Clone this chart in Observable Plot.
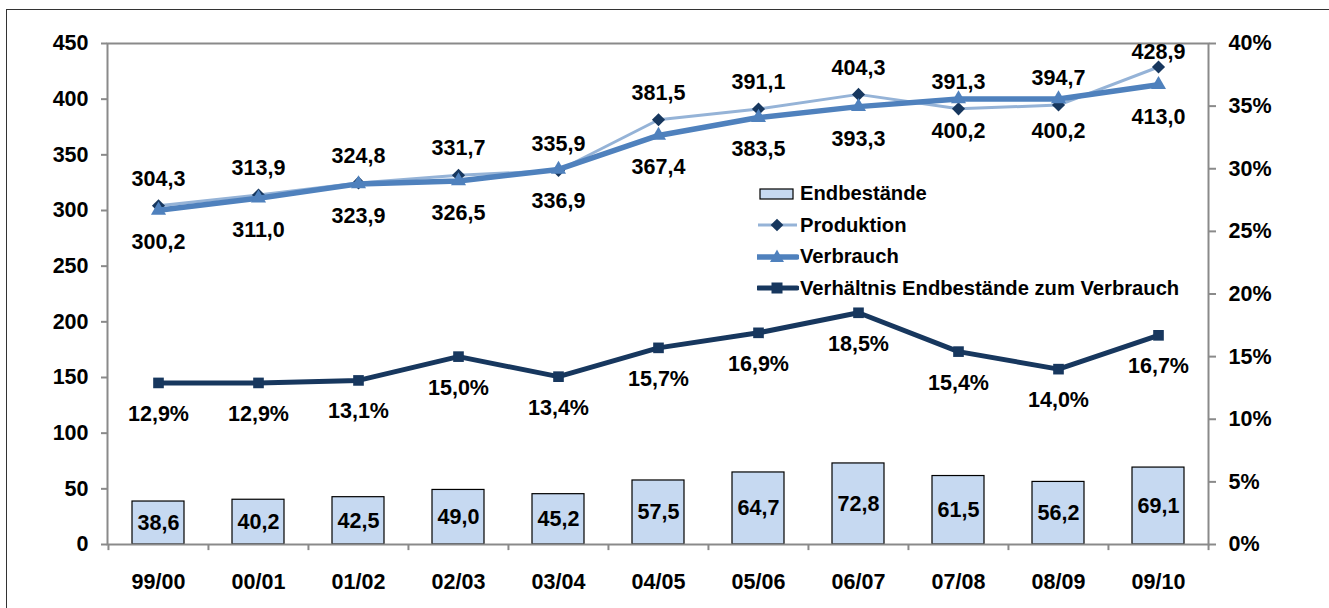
<!DOCTYPE html>
<html>
<head>
<meta charset="utf-8">
<script src="https://cdn.jsdelivr.net/npm/d3@7"></script>
<script src="https://cdn.jsdelivr.net/npm/@observablehq/plot@0.6"></script>
<style>
  html, body { margin: 0; padding: 0; background: #fff; overflow: hidden; }
  #wrap { position: relative; width: 1329px; height: 608px; overflow: hidden; }
  #border { position: absolute; left: 6px; top: 9px; width: 1400px; height: 700px;
            border-top: 1px solid #333; border-left: 1px solid #333; box-sizing: border-box; }
  #chart { position: absolute; left: 0; top: 0; }
  #legend { position: absolute; left: 757px; top: 178px; font-family: "Liberation Sans", Arial, sans-serif;
            font-weight: bold; font-size: 20.2px; color: #000; }
  .row { position: relative; height: 31.5px; display: flex; align-items: center; white-space: nowrap; }
  .row svg { width: 42px; height: 20px; flex: none; margin-right: 1px; }
</style>
</head>
<body>
<div id="wrap">
  <div id="border"></div>
  <div id="chart"></div>
  <div id="legend"></div>
</div>
<script>
const categories = ["99/00","00/01","01/02","02/03","03/04","04/05","05/06","06/07","07/08","08/09","09/10"];
const endbestaende = [38.6, 40.2, 42.5, 49.0, 45.2, 57.5, 64.7, 72.8, 61.5, 56.2, 69.1];
const produktion = [304.3, 313.9, 324.8, 331.7, 335.9, 381.5, 391.1, 404.3, 391.3, 394.7, 428.9];
const verbrauch = [300.2, 311.0, 323.9, 326.5, 336.9, 367.4, 383.5, 393.3, 400.2, 400.2, 413.0];
const verhaeltnis = [12.9, 12.9, 13.1, 15.0, 13.4, 15.7, 16.9, 18.5, 15.4, 14.0, 16.7];
const leftTicks = [0, 50, 100, 150, 200, 250, 300, 350, 400, 450];
const rightTicks = [0, 5, 10, 15, 20, 25, 30, 35, 40];
const seriesNames = ["Endbestände", "Produktion", "Verbrauch", "Verhältnis Endbestände zum Verbrauch"];

const C = {
  bar: "#C6D9F1", prodLine: "#95B3D7", prodMark: "#17375E",
  verb: "#4F81BD", ratio: "#17375E", axis: "#8A8A8A"
};

const yMax = 450, pMax = 40, k = yMax / pMax;
const rows = categories.map((c, i) => ({
  cat: c, end: endbestaende[i], prod: produktion[i], verb: verbrauch[i], ratio: verhaeltnis[i]
}));
const de = v => v.toFixed(1).replace(".", ",");

const W = 1329, H = 608, mL = 107, mR = 121, mT = 43, mB = 64;
const step = (W - mL - mR) / categories.length;
const font = "Liberation Sans, Arial, sans-serif";
const fs = 21.5;

const chart = Plot.plot({
  width: W, height: H,
  marginLeft: mL, marginRight: mR, marginTop: mT, marginBottom: mB,
  style: { fontFamily: font, fontWeight: "bold", fontSize: fs + "px", color: "#000", background: "transparent" },
  x: { type: "band", domain: categories, padding: 0 },
  y: { domain: [0, yMax] },
  marks: [
    Plot.barY(rows, { x: "cat", y: "end", fill: C.bar, stroke: "#000", strokeWidth: 1.2, insetLeft: 24, insetRight: 24 }),
    Plot.frame({ stroke: C.axis, strokeWidth: 2 }),
    Plot.ruleX(categories, { x: d => d, y1: 0, y2: -5.5, dx: -step / 2, stroke: C.axis, strokeWidth: 2 }),
    Plot.ruleX(categories.slice(-1), { x: d => d, y1: 0, y2: -5.5, dx: step / 2, stroke: C.axis, strokeWidth: 2 }),
    Plot.axisY({ ticks: leftTicks, tickSize: 6, tickPadding: 13, stroke: C.axis, strokeWidth: 2, fill: "#000",
                 fontSize: fs, fontWeight: "bold", label: null, tickFormat: d => String(d) }),
    Plot.axisY({ anchor: "right", ticks: rightTicks.map(p => p * k), tickSize: 7, tickPadding: 13, stroke: C.axis,
                 strokeWidth: 2, fill: "#000", fontSize: fs, fontWeight: "bold", label: null,
                 tickFormat: d => Math.round(d / k) + "%" }),
    Plot.axisX({ tickSize: 0, tickPadding: 29, fill: "#000", fontSize: fs, fontWeight: "bold", label: null }),
    // Produktion
    Plot.lineY(rows, { x: "cat", y: "prod", stroke: C.prodLine, strokeWidth: 3 }),
    Plot.dot(rows, { x: "cat", y: "prod", symbol: "diamond2", r: 5.9, fill: C.prodMark, stroke: "none" }),
    // Verbrauch
    Plot.lineY(rows, { x: "cat", y: "verb", stroke: C.verb, strokeWidth: 5.5 }),
    Plot.dot(rows, { x: "cat", y: "verb", symbol: "triangle", r: 5.6, fill: C.verb, stroke: "none" }),
    // Verhältnis
    Plot.lineY(rows, { x: "cat", y: d => d.ratio * k, stroke: C.ratio, strokeWidth: 5 }),
    Plot.dot(rows, { x: "cat", y: d => d.ratio * k, symbol: "square", r: 6, fill: C.ratio, stroke: "none" }),
    // Labels
    Plot.text(rows, { x: "cat", y: d => Math.min(d.prod + 24, 442), text: d => de(d.prod), fontSize: fs, fontWeight: "bold", fill: "#000" }),
    Plot.text(rows, { x: "cat", y: "verb", dy: 32, text: d => de(d.verb), fontSize: fs, fontWeight: "bold", fill: "#000" }),
    Plot.text(rows, { x: "cat", y: d => d.ratio * k, dy: 31, text: d => de(d.ratio) + "%", fontSize: fs, fontWeight: "bold", fill: "#000" }),
    Plot.text(rows, { x: "cat", y: d => d.end / 2, text: d => de(d.end), fontSize: fs, fontWeight: "bold", fill: "#000" })
  ]
});
document.getElementById("chart").appendChild(chart);

// Legend
const swatches = [
  `<svg viewBox="0 0 42 20"><rect x="3" y="5" width="33" height="10" fill="${C.bar}" stroke="#000" stroke-width="1.2"/></svg>`,
  `<svg viewBox="0 0 42 20"><line x1="1" y1="10" x2="40" y2="10" stroke="${C.prodLine}" stroke-width="3"/><rect x="15.5" y="5.5" width="9" height="9" fill="${C.prodMark}" transform="rotate(45 20 10)"/></svg>`,
  `<svg viewBox="0 0 42 20"><line x1="1" y1="10" x2="40" y2="10" stroke="${C.verb}" stroke-width="5.5" stroke-linecap="round"/><path d="M20,2.5 L27,15 L13,15 Z" fill="${C.verb}"/></svg>`,
  `<svg viewBox="0 0 42 20"><line x1="1" y1="10" x2="40" y2="10" stroke="${C.ratio}" stroke-width="5" stroke-linecap="round"/><rect x="14.5" y="4.5" width="11" height="11" fill="${C.ratio}"/></svg>`
];
document.getElementById("legend").innerHTML = seriesNames.map((n, i) =>
  `<div class="row">${swatches[i]}<span>${n}</span></div>`).join("");
</script>
</body>
</html>
